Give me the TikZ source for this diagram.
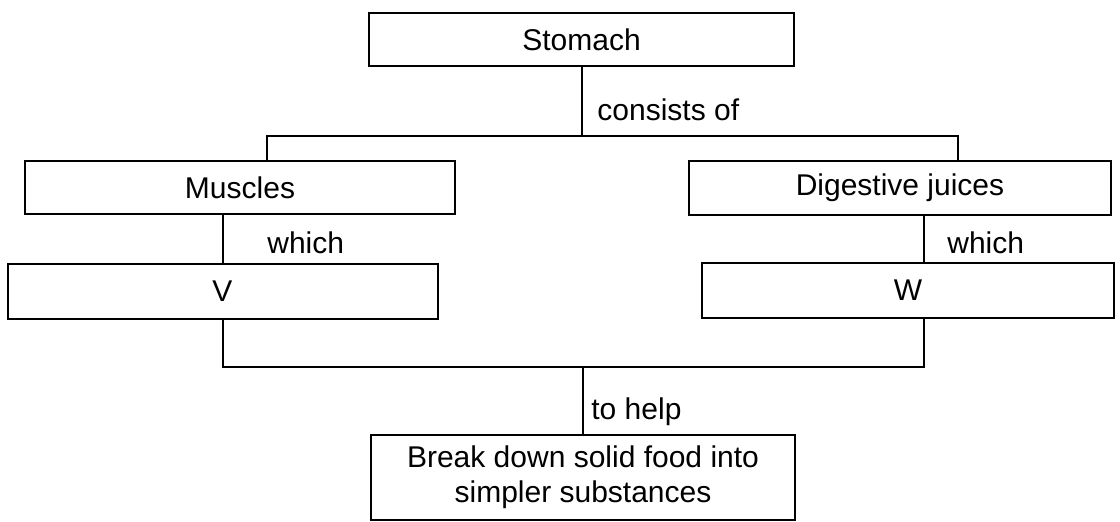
\documentclass[tikz,border=0pt]{standalone}
\usepackage{fontspec}
\setmainfont{Liberation Sans}
\begin{document}
\begin{tikzpicture}[x=0.5pt,y=-0.5pt,
  box/.style={draw, line width=1pt, inner sep=0pt, align=center,
    font=\fontsize{15}{17.5}\selectfont},
  conn/.style={line width=1pt},
  lbl/.style={anchor=west, inner sep=0pt, font=\fontsize{15}{17.5}\selectfont}]
\useasboundingbox (0,0) rectangle (1120,522);
% boxes
\node[box, minimum width=212.5pt, minimum height=26.5pt] (stomach) at (581.5,39.5) {Stomach};
\node[box, minimum width=215pt, minimum height=26.5pt] (muscles) at (240,187.5) {Muscles};
\node[box, minimum width=211pt, minimum height=27pt] (digest) at (900,188) {Digestive juices};
\node[box, minimum width=215pt, minimum height=27.5pt] (v) at (222.5,291.5) {V};
\node[box, minimum width=206pt, minimum height=27.5pt] (w) at (908,290.5) {W};
\node[box, minimum width=212pt, minimum height=42.5pt] (goal) at (583,477.5) {Break down solid food into\\simpler substances};
% junction points
\coordinate (jl) at (267,136);
\coordinate (jr) at (958,136);
\coordinate (bl) at (223,367);
\coordinate (br) at (924,367);
% connectors
\draw[conn] (stomach.south) -- (stomach.south |- jl);
\draw[conn] (muscles.north -| jl) -- (jl) -- (jr) -- (digest.north -| jr);
\draw[conn] (muscles.south -| bl) -- (v.north -| bl);
\draw[conn] (digest.south -| br) -- (w.north -| br);
\draw[conn] (v.south -| bl) -- (bl) -- (br) -- (w.south -| br);
\draw[conn] (goal.north) -- (goal.north |- bl);
% labels
\node[lbl] (consists) at (597,110) {consists of};
\node[lbl] (which1) at (267,243) {which};
\node[lbl] (which2) at (947,243) {which};
\node[lbl] (tohelp) at (591,412) {to help};
\end{tikzpicture}
\end{document}
